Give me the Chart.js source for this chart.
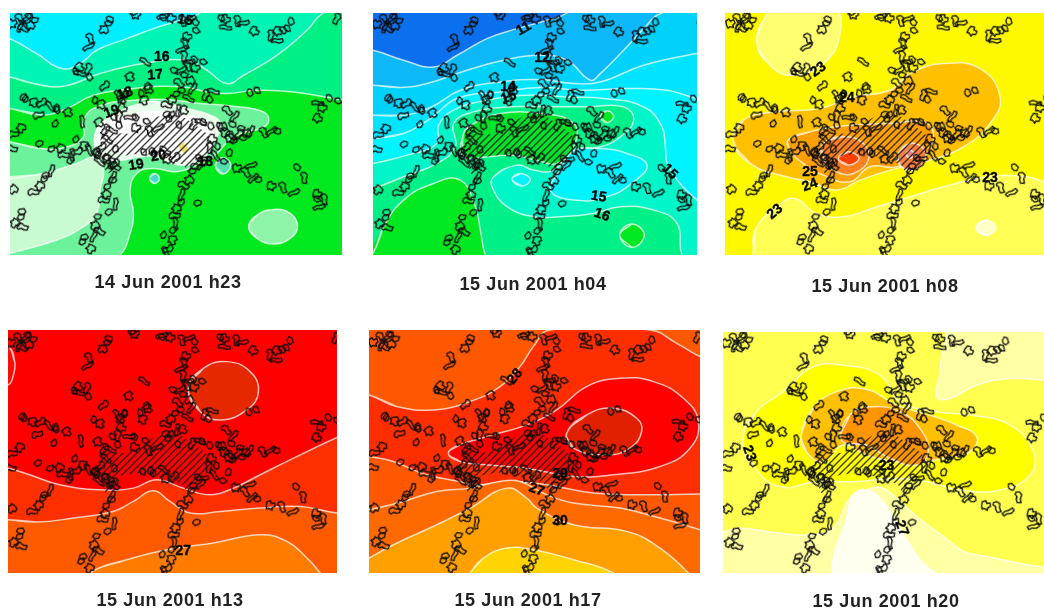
<!DOCTYPE html>
<html><head><meta charset="utf-8">
<script src="https://cdn.jsdelivr.net/npm/chart.js@4"></script>
<style>
html,body{margin:0;padding:0;background:#fff;width:1044px;height:612px;overflow:hidden}
canvas{position:absolute;filter:blur(0.6px)}
.cap{position:absolute;transform:translateX(-50%);white-space:nowrap;font:bold 18px "Liberation Sans",Arial,sans-serif;letter-spacing:.6px;color:#222;filter:blur(0.3px)}
</style></head><body>
<script>
// ---------- captions ----------
const captions=["14 Jun 2001 h23","15 Jun 2001 h04","15 Jun 2001 h08","15 Jun 2001 h13","15 Jun 2001 h17","15 Jun 2001 h20"];

// ---------- isotherm regions, map units, painted in order ----------
const h23Colors=["#00eeff","#00f083","#00e91e","#6cf29b","#8ef5a8","#c8fbcf","#e8fdea","#ffffff","#50e0b0","#40dcc8","#f0e070"];
const h23Bands=[
[[0,110],[30,115],[110,160],[185,205],[240,190],[290,150],[380,115],[460,85],[540,60],[600,38],[620,0],[0,0]],
[[30,230],[100,250],[190,258],[300,220],[430,190],[560,180],[620,210],[680,250],[730,225],[830,165],[920,90],[970,38],[1100,0],[1100,800],[0,800],[0,225]],
[[30,325],[130,345],[200,325],[280,285],[380,268],[480,258],[560,262],[620,275],[680,280],[770,270],[880,275],[1025,300],[1100,320],[1100,800],[0,800],[0,320]],
[[30,425],[120,445],[200,440],[250,410],[250,360],[290,320],[400,300],[500,298],[600,310],[700,318],[790,335],[805,365],[780,385],[700,410],[640,470],[590,495],[530,515],[460,505],[410,520],[390,570],[400,640],[390,700],[360,765],[300,800],[0,800],[0,420]],
[[745,680],[770,645],[820,628],[870,640],[892,680],[870,715],[820,732],[770,715]],
[[30,535],[130,520],[230,490],[290,470],[310,510],[300,570],[290,640],[250,680],[170,720],[30,760],[0,770],[0,530]],
[[285,400],[330,350],[440,305],[500,310],[560,325],[630,345],[660,370],[640,430],[600,480],[540,495],[470,470],[420,470],[360,480],[300,470]],
[[300,385],[380,345],[470,335],[560,345],[620,365],[640,420],[600,470],[540,485],[470,465],[380,460],[310,440]],
[[645,495],[668,472],[692,495],[668,522]],
[[448,535],[463,520],[478,535],[463,550]],
[[535,440],[548,425],[565,450],[550,460]]];

const h04Colors=["#0a70ee","#00d2fb","#00e4ff","#00f4ff","#00f5c8","#00f4ff","#00f088","#00f4ff","#00e820","#00e42c","#00e820","#00e820"];
const h04Bands=[
[[0,150],[38,150],[130,180],[220,200],[290,165],[380,115],[470,85],[560,60],[620,38],[650,0],[0,0]],
[[38,255],[120,262],[200,250],[320,210],[430,180],[540,165],[620,180],[690,240],[720,220],[790,150],[850,85],[905,38],[1100,0],[1100,800],[0,800],[0,255]],
[[38,345],[130,345],[210,322],[300,270],[420,245],[540,238],[640,250],[720,245],[850,195],[1010,160],[1100,150],[1100,800],[0,800],[0,345]],
[[38,415],[130,400],[210,355],[290,295],[420,275],[540,262],[660,270],[800,265],[920,270],[1010,295],[1100,310],[1100,800],[0,800],[0,415]],
[[38,490],[130,468],[230,430],[235,375],[280,330],[380,300],[500,285],[620,290],[730,295],[850,320],[905,380],[915,440],[925,500],[1010,600],[1100,650],[1100,800],[0,800],[0,490]],
[[640,450],[720,445],[800,460],[860,495],[820,545],[740,590],[640,600],[570,570],[600,510]],
[[38,565],[130,530],[230,490],[285,440],[280,370],[340,335],[450,320],[560,320],[680,320],[790,320],[820,360],[780,410],[720,440],[640,450],[580,510],[520,510],[470,495],[400,530],[395,560],[440,620],[520,650],[600,650],[700,640],[780,620],[880,630],[950,670],[965,765],[1000,800],[0,800],[0,570]],
[[455,538],[480,520],[510,538],[485,558]],
[[38,760],[70,680],[130,600],[220,550],[300,540],[345,620],[360,690],[375,765],[400,800],[0,800]],
[[310,400],[340,370],[420,340],[540,340],[640,370],[640,440],[590,490],[530,480],[460,465],[380,470],[310,470]],
[[720,348],[740,332],[760,348],[740,368]],
[[778,705],[815,672],[852,705],[815,742]]];

const h08Colors=["#ffff70","#ffff55","#ffffc8","#ffc000","#ffa000","#ff8020","#ff4000","#ff8040","#f08080"];
const h08Bands=[
[[140,125],[160,60],[200,20],[370,20],[390,100],[340,190],[240,225],[170,185]],
[[130,765],[135,690],[200,620],[255,595],[320,640],[400,650],[500,620],[600,590],[700,560],[830,530],[950,530],[1010,550],[1100,600],[1100,800],[120,800]],
[[798,683],[828,660],[858,683],[828,706]],
[[70,420],[100,360],[200,335],[330,325],[430,290],[540,270],[600,220],[700,190],[810,205],[870,290],[840,370],[760,440],[660,480],[540,510],[450,540],[380,570],[300,545],[230,530],[120,490]],
[[235,420],[300,395],[420,375],[540,370],[640,365],[670,400],[650,460],[560,500],[480,500],[420,545],[340,525],[280,490],[240,450]],
[[340,430],[400,410],[460,430],[475,480],[430,520],[380,515],[340,480]],
[[385,475],[415,455],[447,475],[415,495]],
[[565,460],[600,430],[640,445],[645,480],[610,510],[570,495]],
[[588,462],[600,450],[612,462],[600,474]]];

const h13Colors=["#e52800","#f81008","#ff3000","#ff5a00","#ff7c00"];
const h13Bands=[
[[565,230],[610,170],[680,150],[750,180],[775,240],[740,295],[660,325],[600,300]],
[[25,105],[45,150],[40,195],[25,220],[-30,220],[-30,100]],
[[25,470],[90,490],[180,520],[300,535],[400,530],[470,505],[550,530],[630,550],[700,530],[770,495],[880,440],[1010,378],[1100,340],[1100,800],[0,800],[0,470]],
[[25,625],[110,632],[220,620],[340,600],[400,570],[460,538],[510,570],[570,605],[660,600],[780,590],[900,585],[1010,605],[1100,610],[1100,800],[0,800],[0,625]],
[[270,785],[380,745],[500,715],[640,695],[780,670],[860,690],[920,740],[960,785],[1000,830],[250,830]]];

const h17Colors=["#ff2e00","#ff0000","#e02000","#ff6a00","#ffa000","#ffd400"];
const h17Bands=[
[[27,250],[110,285],[220,295],[330,270],[420,225],[480,165],[520,105],[570,55],[870,55],[950,95],[1020,135],[1100,170],[1100,548],[1020,548],[860,550],[700,545],[560,520],[450,510],[350,520],[300,510],[200,490],[100,450],[27,435],[0,430],[0,250]],
[[265,425],[300,400],[400,370],[500,340],[590,295],[680,225],[780,200],[880,210],[970,260],[1015,330],[990,410],[900,465],[760,490],[640,495],[500,470],[380,460],[300,450]],
[[620,365],[680,310],[760,290],[830,320],[845,360],[810,410],[740,430],[640,410]],
[[27,595],[130,570],[230,540],[330,530],[420,510],[480,510],[560,550],[640,575],[780,590],[900,620],[1020,655],[1100,680],[1100,830],[0,830],[0,595]],
[[27,740],[100,700],[230,640],[330,590],[440,530],[500,560],[530,590],[640,640],[800,660],[900,710],[985,785],[1020,830],[0,830],[0,755]],
[[330,785],[370,740],[440,710],[520,715],[640,745],[760,785],[800,830],[300,830]]];

const h20Colors=["#ffff50","#fffff0","#ffff00","#ffc000","#ff9500"];
const h20Bands=[
[[0,20],[680,20],[690,180],[680,255],[720,260],[800,220],[900,200],[1002,205],[1100,210],[1100,720],[800,730],[680,660],[580,580],[520,530],[470,535],[420,560],[370,650],[300,670],[210,665],[100,650],[0,650]],
[[365,780],[410,620],[430,550],[470,535],[520,570],[570,650],[630,745],[680,800],[400,810]],
[[100,380],[140,300],[220,240],[310,165],[400,160],[510,190],[570,270],[680,300],[780,310],[900,340],[970,420],[960,490],[870,535],[750,535],[650,510],[560,500],[440,510],[320,510],[210,525],[130,460]],
[[275,370],[310,290],[380,240],[470,232],[560,280],[660,310],[740,340],[800,375],[780,420],[700,440],[640,450],[560,450],[470,430],[400,400],[340,450],[290,420]],
[[395,385],[420,310],[490,285],[570,300],[630,350],[655,420],[620,460],[540,440],[470,400]]];

// ---------- contour labels: text, x, y, angle ----------
const h23Labels=[["15",555,60,10],["16",485,172,0],["17",465,225,-5],["18",375,280,-20],["19",335,335,-20],["20",475,468,-10],["19",408,495,-10],["18",615,485,0]];
const h04Labels=[["11",490,85,-30],["12",545,175,0],["14",443,262,0],["15",445,292,-20],["15",928,515,45],["15",715,590,10],["16",725,645,20]];
const h08Labels=[["23",325,208,-35],["24",410,295,0],["25",300,515,0],["24",300,555,-20],["23",195,635,-40],["23",840,535,0]];
const h13Labels=[["27",550,718,0]];
const h17Labels=[["28",465,195,-50],["29",600,488,0],["27",530,535,20],["30",600,628,0]];
const h20Labels=[["23",118,425,70],["23",530,465,0],["27",575,650,70]];

// ---------- map frame per panel: xmin, xmax, ymin, ymax; town shift ----------
const frames=[[30,1025,38,765],[38,1010,38,765],[45,1002,38,765],[25,1010,55,785],[27,1020,55,785],[40,1002,60,785]];
const townShiftX=[0,13,24,-3,3,14];
const townShiftY=[0,2,0,24,22,24];
const boxes=[[10,13,332,242],[373,13,324,242],[725,13,319,242],[8,330,329,243],[369,330,331,243],[723,332,321,241]];

// ---------- built-up area ----------
const urbanArea=[[300,395],[390,400],[470,350],[540,345],[620,400],[640,440],[590,490],[570,530],[550,495],[500,475],[430,460],[360,470],[350,510],[320,520],[305,470]];

// ---------- town centres, same for all maps ----------
const townSets=[
[[42,70],[58,58],[75,50],[92,52],[102,68],[85,78],[70,88],[55,76]],
[[332,65],[320,76],[306,88]],[[268,118],[262,134]],[[392,42],[412,44]],[[487,42],[490,60]],[[518,56],[545,64],[568,50]],
[[585,74],[580,95],[565,112],[552,132],[542,142]],
[[548,170],[565,178],[582,186],[602,190],[590,205],[560,200],[540,205],[525,218],[548,232],[565,242],[535,252],[572,262],[550,276],[528,290],[510,302],[500,318],[528,330],[492,340],[518,352]],
[[655,55],[680,60],[708,64],[728,62]],[[675,88]],[[765,97]],[[868,70],[852,85],[835,97],[808,107],[830,115],[848,98]],[[1005,55]],
[[218,212],[240,206],[260,206],[238,226],[265,238]],[[432,190]],[[390,235]],[[435,263],[432,282],[447,272]],[[310,255]],[[292,305],[303,318]],
[[350,290],[368,286],[385,285],[365,302]],[[430,305]],
[[62,292],[82,302],[100,312],[122,306],[145,322],[162,328],[180,332],[205,342]],[[118,348]],[[170,378]],[[240,365]],[[60,388],[42,406]],[[110,428]],[[36,450]],
[[155,455],[178,448],[192,468],[210,464],[203,480],[232,425],[250,442],[228,452],[262,452],[282,458],[300,470],[320,482],[340,490],[295,490]],
[[148,510],[130,522],[134,545],[116,562],[102,580]],[[35,570]],[[72,640],[62,660],[40,672],[68,685]],
[[345,502],[332,528],[345,545],[322,568],[314,586],[312,604],[340,612],[318,634]],
[[290,658],[280,678],[298,698],[275,706],[260,716],[248,734],[268,750]],
[[600,490],[588,505],[575,522],[562,542],[550,560],[538,582],[585,605],[545,615],[525,630],[525,650],[520,672],[510,690],[495,712],[515,725],[500,745],[492,760]],
[[662,380],[680,335],[698,345]],[[700,380],[718,392],[735,400],[692,410],[745,390],[735,418],[700,430],[670,400]],[[788,400],[810,388],[835,400]],
[[665,490],[715,505],[735,520],[755,530],[778,545]],[[750,490]],[[818,560],[845,565],[878,572]],[[890,510]],[[908,535]],[[942,600],[955,585],[968,600],[955,615]],
[[952,315],[985,302],[1005,306],[970,325]],[[955,358]],[[745,285],[762,272]],[[612,285],[638,280],[625,305]],[[600,365]],[[562,300]],
[[298,372],[312,388],[332,396],[352,382],[332,352],[370,328],[352,350],[390,345],[405,360],[432,368],[412,385],[445,395],[472,378]],
[[500,360],[528,372],[552,335],[575,372],[600,372],[628,385],[650,378],[640,420],[625,445],[610,470],[596,482]],
[[300,440],[318,422],[340,452],[310,470],[292,462],[330,490]],[[470,465],[500,482],[522,472],[492,456],[450,460],[422,455]],
[[640,470],[680,462],[660,442],[690,420],[712,402]]
];

// ---------- drawing ----------
const panelBases=["#00f5b5","#0cb8f8","#fff900","#ff0000","#ff5800","#ffffa4"];
const allBands=[h23Bands,h04Bands,h08Bands,h13Bands,h17Bands,h20Bands];
const allColors=[h23Colors,h04Colors,h08Colors,h13Colors,h17Colors,h20Colors];
const allLabels=[h23Labels,h04Labels,h08Labels,h13Labels,h17Labels,h20Labels];

function hatch(){
  const c=document.createElement('canvas');c.width=c.height=7;const g=c.getContext('2d');
  g.strokeStyle='rgba(30,30,30,.85)';g.lineWidth=1.4;
  g.beginPath();g.moveTo(-1,8);g.lineTo(8,-1);g.moveTo(-1,1);g.lineTo(1,-1);g.moveTo(6,8);g.lineTo(8,6);g.stroke();
  return g.createPattern(c,'repeat');
}
// irregular town outline glyphs used as point styles
const glyphShapes=[
 [[1,4],[5,1],[7,4],[11,2],[13,6],[10,9],[11,12],[6,11],[4,13],[2,9]],
 [[2,3],[8,1],[11,5],[9,8],[5,9],[1,7]],
 [[1,6],[4,2],[9,3],[14,1],[15,6],[11,8],[7,8],[5,11],[2,10]],
 [[3,1],[8,3],[9,8],[6,11],[2,8]],
 [[1,3],[6,1],[12,3],[16,2],[17,6],[12,7],[7,6],[2,7]]
];
const glyphs=glyphShapes.map(s=>{
  const c=document.createElement('canvas');c.width=16;c.height=13;const g=c.getContext('2d');
  g.strokeStyle='#0c0c0c';g.lineWidth=1.3;g.lineJoin='round';g.beginPath();
  s.forEach((p,i)=>{const x=p[0]*.78+1,y=p[1]*.78+1;i?g.lineTo(x,y):g.moveTo(x,y)});g.closePath();g.stroke();
  return c;
});

const labelPlugin={id:'isoLabels',afterDatasetsDraw(ch,a,o){
  const g=ch.ctx;g.save();g.fillStyle='#060606';g.strokeStyle='#060606';g.lineWidth=.4;g.font='bold 14px "Liberation Sans",Arial,sans-serif';g.textAlign='center';g.textBaseline='middle';
  for(const [t,x,y,r] of o.items){g.save();g.translate(ch.scales.x.getPixelForValue(x),ch.scales.y.getPixelForValue(y));g.rotate(r*Math.PI/180);g.fillText(t,0,0);g.strokeText(t,0,0);g.restore();}
  g.restore();
}};

captions.forEach((cap,i)=>{
  const [L,T,W,H]=boxes[i];const [x0,x1,y0,y1]=frames[i];
  const cv=document.createElement('canvas');cv.width=W;cv.height=H;cv.style.left=L+'px';cv.style.top=T+'px';cv.style.background=panelBases[i];
  document.body.appendChild(cv);
  const ds=[];
  const ring=a=>[a[a.length-1],...a,a[0],a[1]].map(p=>({x:p[0],y:p[1]}));
  allBands[i].forEach((b,k)=>ds.push({data:ring(b),showLine:true,tension:.45,fill:'shape',backgroundColor:allColors[i][k],borderColor:'rgba(255,255,255,.72)',borderWidth:1.5,pointRadius:0}));
  ds.push({data:urbanArea.concat([urbanArea[0]]).map(p=>({x:p[0]+townShiftX[i],y:p[1]+townShiftY[i]})),showLine:true,tension:.1,fill:'shape',backgroundColor:hatch(),borderWidth:0,borderColor:'transparent',pointRadius:0});
  townSets.forEach((c,k)=>ds.push({
    data:c.map(p=>({x:p[0]+townShiftX[i],y:p[1]+townShiftY[i]})),showLine:false,fill:false,
    pointStyle:c.map((_,j)=>glyphs[(j*2+k)%glyphs.length]),pointRadius:6,pointRotation:c.map((_,j)=>(j*67+k*41)%180)
  }));
  ds.reverse();
  new Chart(cv,{type:'scatter',data:{datasets:ds},plugins:[labelPlugin],options:{
    responsive:false,animation:false,devicePixelRatio:1,layout:{padding:0,autoPadding:false},
    elements:{line:{capBezierPoints:false}},
    scales:{x:{type:'linear',display:false,min:x0,max:x1},y:{type:'linear',display:false,reverse:true,min:y0,max:y1}},
    plugins:{legend:{display:false},tooltip:{enabled:false},title:{display:false},isoLabels:{items:allLabels[i]}}
  }});
});
const capPos=[[168,272],[533,274],[885,276],[170,590],[528,590],[886,591]];
captions.forEach((t,i)=>{const d=document.createElement('div');d.className='cap';d.textContent=t;d.style.left=capPos[i][0]+'px';d.style.top=capPos[i][1]+'px';document.body.appendChild(d);});
</script>
</body></html>
